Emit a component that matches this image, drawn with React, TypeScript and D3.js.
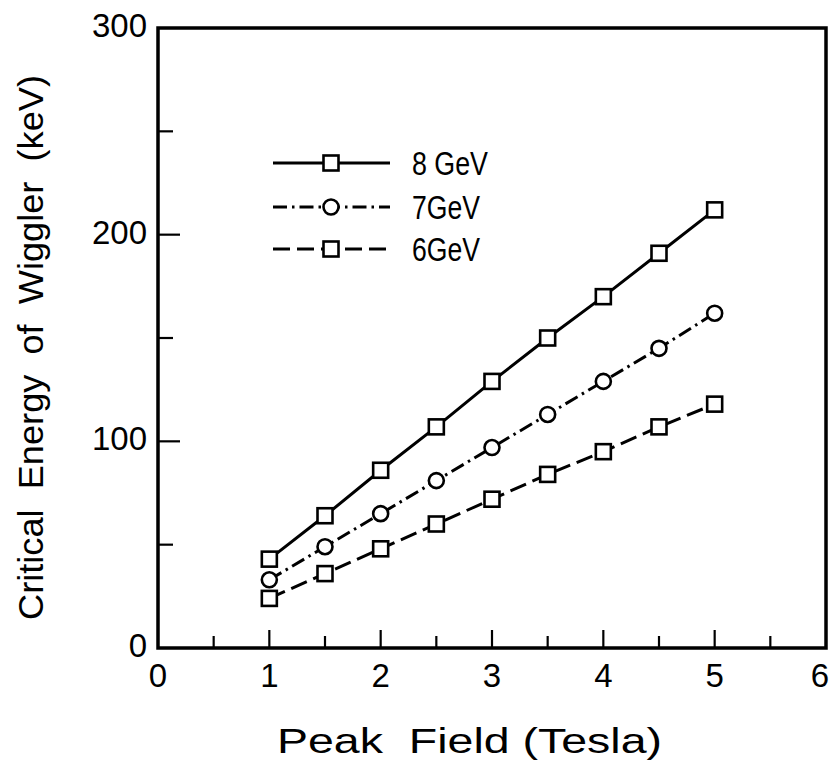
import React from "react";
import * as d3 from "d3";

const fields = [1, 1.5, 2, 2.5, 3, 3.5, 4, 4.5, 5];
const gev8 = [43, 64, 86, 107, 129, 150, 170, 191, 212];
const gev7 = [33, 49, 65, 81, 97, 113, 129, 145, 162];
const gev6 = [24, 36, 48, 60, 72, 84, 95, 107, 118];
const xTickLabels = ["0", "1", "2", "3", "4", "5", "6"];
const yTickLabels = ["0", "100", "200", "300"];
const seriesNames = ["8 GeV", "7GeV", "6GeV"];

const W = 833, H = 769;
const L = 158, R = 826, T = 28, B = 648;
const FONT = "'Liberation Sans', 'DejaVu Sans', sans-serif";

type Series = { name: string; values: number[]; dash: string | null; marker: "square" | "circle" };

export default function App() {
  const x = d3.scaleLinear().domain([0, 6]).range([L, R]);
  const y = d3.scaleLinear().domain([0, 300]).range([B, T]);

  const series: Series[] = [
    { name: seriesNames[0], values: gev8, dash: null, marker: "square" },
    { name: seriesNames[1], values: gev7, dash: "14,5,2.5,5", marker: "circle" },
    { name: seriesNames[2], values: gev6, dash: "17,7", marker: "square" },
  ];

  const line = d3.line<[number, number]>().x(d => x(d[0])).y(d => y(d[1]));

  const xMajor = d3.range(1, 6);
  const xMinor = d3.range(0.5, 6, 1);
  const yMajor = [100, 200];
  const yMinor = [50, 150, 250];

  const marker = (kind: string, cx: number, cy: number, key: string) =>
    kind === "square" ? (
      <rect key={key} x={cx - 7.5} y={cy - 7.5} width={15} height={15} fill="#fff" stroke="#000" strokeWidth={2.6} />
    ) : (
      <circle key={key} cx={cx} cy={cy} r={7.5} fill="#fff" stroke="#000" strokeWidth={2.6} />
    );

  const legendY = [163, 207, 249];
  const legendX0 = 273, legendX1 = 390, legendM = 331, legendText = 412;
  const legendLens = [76, 68, 68];

  return (
    <div style={{ position: "absolute", left: 0, top: 0 }}>
      <svg width={W} height={H} style={{ display: "block", background: "#fff" }}>
        {/* ticks */}
        {xMajor.map(v => (
          <line key={"xM" + v} x1={x(v)} x2={x(v)} y1={B} y2={B - 18} stroke="#000" strokeWidth={2.2} />
        ))}
        {xMinor.map(v => (
          <line key={"xm" + v} x1={x(v)} x2={x(v)} y1={B} y2={B - 12} stroke="#000" strokeWidth={2.2} />
        ))}
        {yMajor.map(v => (
          <line key={"yM" + v} x1={L} x2={L + 22} y1={y(v)} y2={y(v)} stroke="#000" strokeWidth={2.2} />
        ))}
        {yMinor.map(v => (
          <line key={"ym" + v} x1={L} x2={L + 15} y1={y(v)} y2={y(v)} stroke="#000" strokeWidth={2.2} />
        ))}
        {/* frame */}
        <rect x={L} y={T} width={R - L} height={B - T} fill="none" stroke="#000" strokeWidth={3.5} />

        {/* tick labels */}
        {xTickLabels.map((t, i) => (
          <text key={"xl" + t} x={Math.min(x(i), W - 13)} y={687} textAnchor="middle" fontFamily={FONT} fontSize={33} fill="#000">{t}</text>
        ))}
        {yTickLabels.map((t, i) => (
          <text key={"yl" + t} x={147} y={y(i * 100) + 9} textAnchor="end" fontFamily={FONT} fontSize={33} fill="#000">{t}</text>
        ))}

        {/* axis titles */}
        <text x={277} y={753} fontFamily={FONT} fontSize={35} fill="#000" textLength={385} lengthAdjust="spacingAndGlyphs" style={{ whiteSpace: "pre" }}>
          {"Peak  Field (Tesla)"}
        </text>
        <text transform="translate(43,620) rotate(-90)" x={0} y={0} fontFamily={FONT} fontSize={35} fill="#000" textLength={545} lengthAdjust="spacingAndGlyphs" style={{ whiteSpace: "pre" }}>
          {"Critical  Energy  of  Wiggler  (keV)"}
        </text>

        {/* data lines */}
        {series.map(s => (
          <path key={"l" + s.name} d={line(fields.map((f, i) => [f, s.values[i]] as [number, number])) || ""} fill="none" stroke="#000" strokeWidth={3} strokeDasharray={s.dash || undefined} />
        ))}
        {series.map(s => fields.map((f, i) => marker(s.marker, x(f), y(s.values[i]), s.name + i)))}

        {/* legend */}
        {series.map((s, i) => (
          <g key={"lg" + s.name}>
            <line x1={legendX0} x2={legendX1} y1={legendY[i]} y2={legendY[i]} stroke="#000" strokeWidth={3} strokeDasharray={s.dash || undefined} />
            {marker(s.marker, legendM, legendY[i], "lm" + i)}
            <text x={legendText} y={legendY[i] + 12} fontFamily={FONT} fontSize={33} fill="#000" textLength={legendLens[i]} lengthAdjust="spacingAndGlyphs">{s.name}</text>
          </g>
        ))}
      </svg>
    </div>
  );
}
